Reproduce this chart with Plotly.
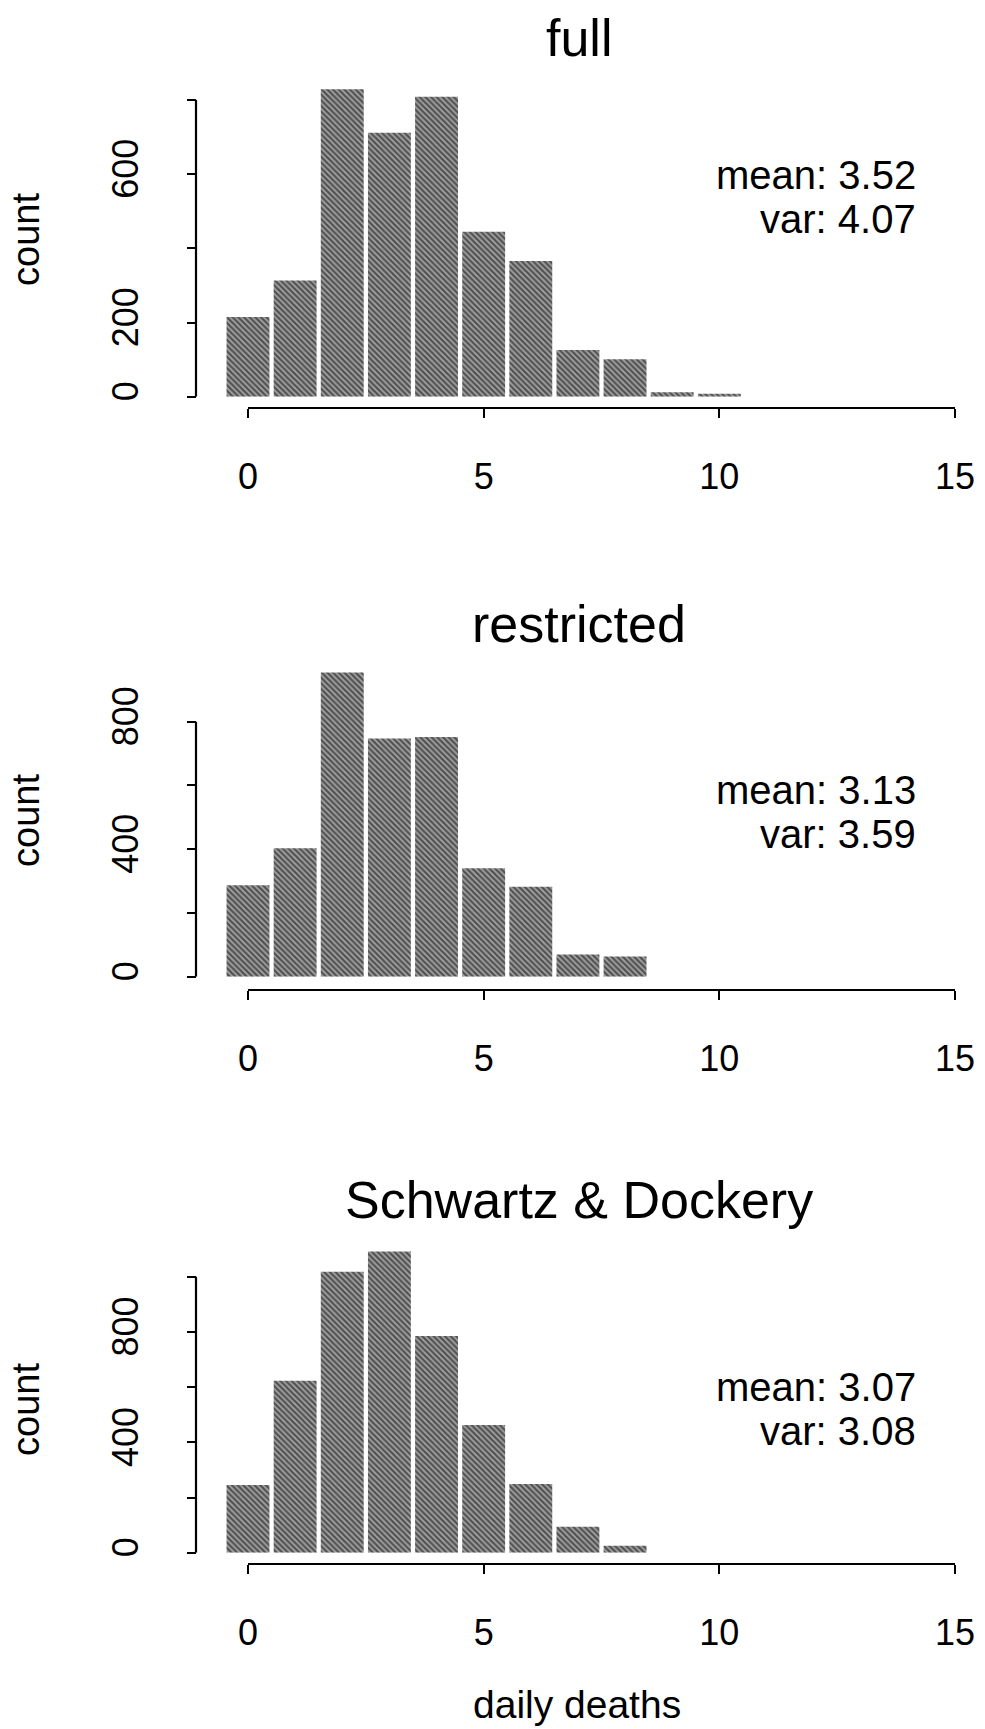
import plotly.graph_objects as go

# ---------------- data ----------------
deaths_full = [0, 1, 2, 3, 4, 5, 6, 7, 8, 9, 10]
counts_full = [215, 313, 829, 712, 809, 445, 366, 126, 101, 12, 8]
deaths_restricted = [0, 1, 2, 3, 4, 5, 6, 7, 8]
counts_restricted = [287, 403, 954, 747, 752, 340, 282, 70, 63]
deaths_sd = [0, 1, 2, 3, 4, 5, 6, 7, 8]
counts_sd = [245, 623, 1018, 1091, 785, 463, 249, 94, 25]

titles = ["full", "restricted", "Schwartz & Dockery"]
means = ["3.52", "3.13", "3.07"]
variances = ["4.07", "3.59", "3.08"]

x_tickvals = [0, 5, 10, 15]
y_tickvals = [[0, 200, 400, 600, 800], [0, 200, 400, 600, 800], [0, 200, 400, 600, 800, 1000]]
y_ticktext = [["0", "200", "", "600", ""], ["0", "", "400", "", "800"], ["0", "", "400", "", "800", ""]]
x_title = "daily deaths"
y_title = "count"

# ---------------- layout geometry (pixels) ----------------
W, H = 985, 1729
FONT = "Liberation Sans, Arial, Helvetica, sans-serif"

def px(v):
    return v / W

def py(v):
    return 1 - v / H

# x: 0 -> 248 px, 15 -> 955 px ; y axis line at 196 px
X0_PX, X15_PX, YLINE_PX = 248.0, 955.0, 196.0
x_scale = (X15_PX - X0_PX) / 15.0
x_min = (YLINE_PX - X0_PX) / x_scale

panels = [
    dict(y0=396.7, y1=100.0, top=60, xline=408, title=38, mean=175, var=219, count=240),
    dict(y0=976.7, y1=721.7, top=660, xline=990, title=624, mean=790, var=834, count=821),
    dict(y0=1552.7, y1=1276.7, top=1240, xline=1564, title=1200, mean=1387, var=1431, count=1410),
]
series = [(deaths_full, counts_full), (deaths_restricted, counts_restricted), (deaths_sd, counts_sd)]

fig = go.Figure()
annotations = []
shapes = []
LW = 2.2
axis_style = dict(
    showline=False, ticks="outside", ticklen=9, tickwidth=LW, tickcolor="black",
    showgrid=False, zeroline=False, tickfont=dict(size=36, color="black", family=FONT),
)

for i, (p, (xs, ys)) in enumerate(zip(panels, series)):
    n = "" if i == 0 else str(i + 1)
    ytop_tick = y_tickvals[i][-1]
    y_scale = (p["y0"] - p["y1"]) / ytop_tick
    y_max = ytop_tick + (p["y1"] - p["top"]) / y_scale

    fig.add_trace(go.Bar(
        x=xs, y=ys, width=0.91,
        xaxis="x" + n, yaxis="y" + n,
        showlegend=False, hoverinfo="skip",
        marker=dict(
            color="#707070",
            line=dict(width=0),
            pattern=dict(shape="\\", fgcolor="#000000", bgcolor="#a4a4a4", size=4, solidity=0.55),
        ),
    ))
    fig.layout["xaxis" + n] = dict(
        domain=[px(YLINE_PX), px(X15_PX)], range=[x_min, 15], anchor="free", position=py(p["xline"]),
        tickvals=x_tickvals, ticklabelstandoff=28, **axis_style,
    )
    fig.layout["yaxis" + n] = dict(
        domain=[py(p["y0"]), py(p["top"])], range=[0, y_max], anchor="free", position=px(YLINE_PX),
        tickvals=y_tickvals[i], ticktext=y_ticktext[i], tickangle=-90, ticklabelstandoff=35,
        **axis_style,
    )
    # R-style axis lines spanning only the first to last tick
    shapes.append(dict(type="line", xref="x" + n, yref="paper", x0=0, x1=15,
                       y0=py(p["xline"]), y1=py(p["xline"]), line=dict(color="black", width=LW)))
    shapes.append(dict(type="line", xref="paper", yref="y" + n, x0=px(YLINE_PX), x1=px(YLINE_PX),
                       y0=0, y1=ytop_tick, line=dict(color="black", width=LW)))

    annotations.append(dict(text=titles[i], x=px(579), y=py(p["title"]), xref="paper", yref="paper",
                            showarrow=False, font=dict(size=52, family=FONT, color="black"),
                            xanchor="center", yanchor="middle"))
    annotations.append(dict(text="mean: " + means[i], x=px(918), y=py(p["mean"]), xref="paper", yref="paper",
                            showarrow=False, font=dict(size=40, family=FONT, color="black"),
                            xanchor="right", yanchor="middle"))
    annotations.append(dict(text="var: " + variances[i], x=px(918), y=py(p["var"]), xref="paper", yref="paper",
                            showarrow=False, font=dict(size=40, family=FONT, color="black"),
                            xanchor="right", yanchor="middle"))
    annotations.append(dict(text=y_title, x=px(26), y=py(p["count"]), xref="paper", yref="paper",
                            showarrow=False, textangle=-90, font=dict(size=38, family=FONT, color="black"),
                            xanchor="center", yanchor="middle"))

annotations.append(dict(text=x_title, x=px(577), y=py(1704), xref="paper", yref="paper",
                        showarrow=False, font=dict(size=39, family=FONT, color="black"),
                        xanchor="center", yanchor="middle"))

fig.update_layout(
    width=W, height=H,
    margin=dict(l=0, r=0, t=0, b=0, autoexpand=False),
    paper_bgcolor="white", plot_bgcolor="white",
    annotations=annotations,
    shapes=shapes,
    font=dict(family=FONT, color="black"),
)

fig.write_html("out.html")
